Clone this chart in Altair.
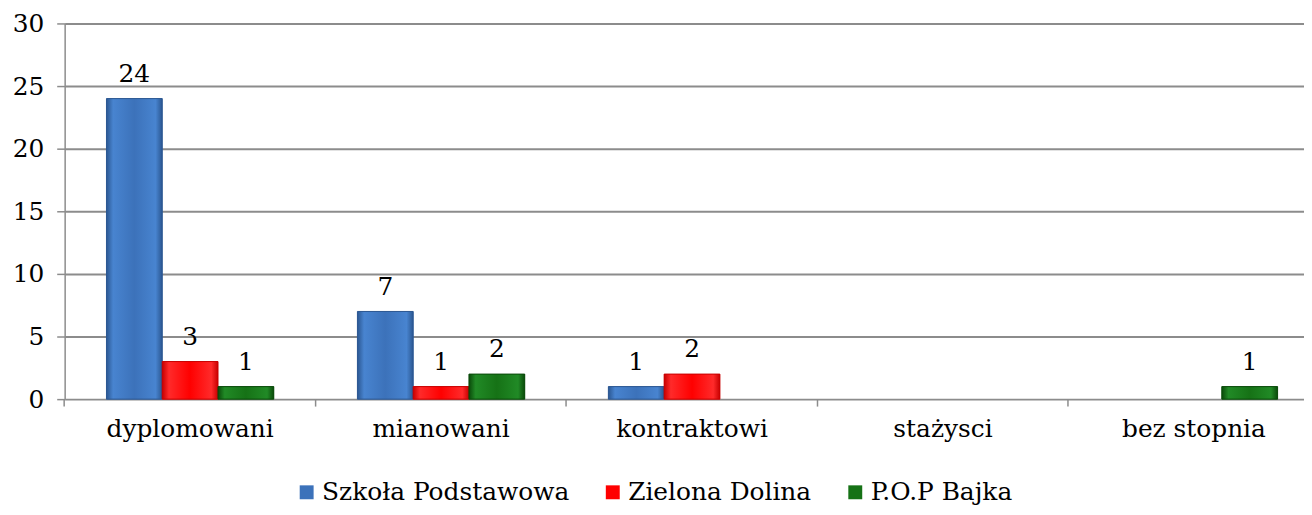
import altair as alt
import pandas as pd

categories = ["dyplomowani", "mianowani", "kontraktowi", "stażysci", "bez stopnia"]
series = ["Szkoła Podstawowa", "Zielona Dolina", "P.O.P Bajka"]
szkola = [24, 7, 1, None, None]
zielona = [3, 1, 2, None, None]
bajka = [1, 2, None, None, 1]
colors = ["#3C72BA", "#FF0000", "#167216"]

rows = []
for s, vals in zip(series, [szkola, zielona, bajka]):
    for c, v in zip(categories, vals):
        rows.append({"category": c, "series": s, "value": v})
df = pd.DataFrame(rows)

FONT = "DejaVu Serif"
FS = 25

x_enc = alt.X("category:N", sort=categories,
              scale=alt.Scale(domain=categories, range=[0, 1262.5],
                              paddingInner=1/3, paddingOuter=1/6),
              axis=alt.Axis(title=None, labelAngle=0, labelFont=FONT, labelFontSize=FS,
                            labelColor="#000000", labelPadding=11, domain=False,
                            ticks=True, tickSize=7, tickColor="#8c8c8c", tickWidth=1.5,
                            bandPosition=-0.25, grid=False))
xo_enc = alt.XOffset("series:N", scale=alt.Scale(domain=series, paddingInner=0, paddingOuter=0))
y_enc = alt.Y("value:Q", scale=alt.Scale(domain=[0, 30], nice=False),
              axis=alt.Axis(title=None, values=[0, 5, 10, 15, 20, 25, 30], labelFont=FONT,
                            labelFontSize=FS, labelColor="#000000", labelPadding=13,
                            tickSize=8, tickColor="#8c8c8c", tickWidth=1.5,
                            domainColor="#8c8c8c", domainWidth=1.5,
                            grid=True, gridColor="#8c8c8c", gridWidth=2))

base = alt.Chart(df).transform_filter("datum.value != null && datum.value > 0")

legend_layer = base.mark_bar().encode(
    x=x_enc, xOffset=xo_enc, y=y_enc,
    color=alt.Color("series:N", scale=alt.Scale(domain=series, range=colors),
                    legend=alt.Legend(title=None, orient="none", direction="horizontal",
                                      legendX=231, legendY=459, symbolType="square",
                                      symbolSize=196, symbolStrokeWidth=0,
                                      labelFont=FONT, labelFontSize=FS, labelColor="#000000",
                                      labelOffset=3, columnPadding=31, labelLimit=400))
)

grads = [
    ("#2B5791", "#4884D0", "#3C72BA"),
    ("#C80000", "#FF2A2A", "#FF0000"),
    ("#0A4A0A", "#218A26", "#167216"),
]
overlays = []
for s, (dark, light, mid) in zip(series, grads):
    g = alt.Gradient(gradient="linear", x1=0, y1=0, x2=1, y2=0,
                     stops=[alt.GradientStop(color=dark, offset=0),
                            alt.GradientStop(color=light, offset=0.12),
                            alt.GradientStop(color=mid, offset=0.5),
                            alt.GradientStop(color=light, offset=0.88),
                            alt.GradientStop(color=dark, offset=1)])
    overlays.append(
        base.transform_filter(alt.datum.series == s)
        .mark_bar(color=g, stroke=dark, strokeWidth=1)
        .encode(x=x_enc, xOffset=xo_enc, y=y_enc)
    )

labels = base.mark_text(baseline="alphabetic", dy=-17, font=FONT, fontSize=FS,
                        color="#000000").encode(
    x=x_enc, xOffset=xo_enc, y=y_enc, text=alt.Text("value:Q", format="d")
)

chart = alt.layer(legend_layer, *overlays, labels).properties(
    width=1247, height=378,
    autosize=alt.AutoSizeParams(type="none"),
    padding={"left": 57, "top": 14, "right": 0, "bottom": 107},
).configure_view(stroke=None)

chart.save("out.html", embed_options={"renderer": "svg", "actions": False})
